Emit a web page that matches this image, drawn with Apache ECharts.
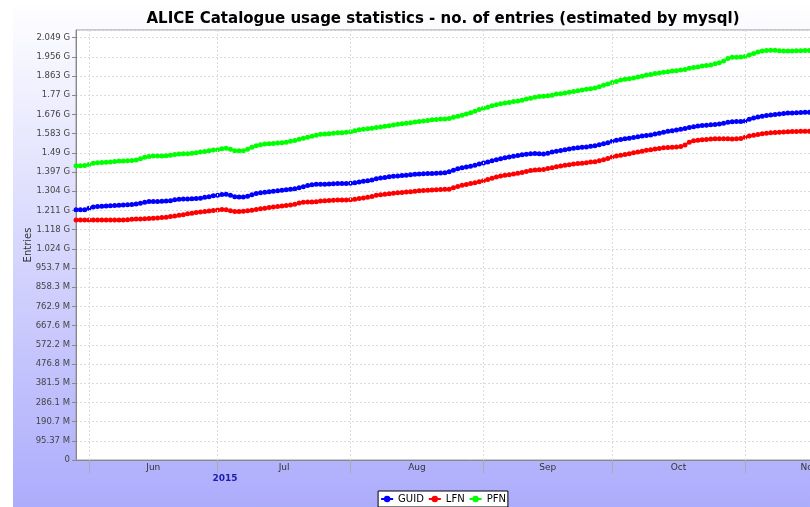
<!DOCTYPE html>
<html><head><meta charset="utf-8">
<script src="https://cdn.jsdelivr.net/npm/echarts@6/dist/echarts.min.js"></script>
<style>
html,body{margin:0;padding:0;width:810px;height:507px;overflow:hidden;background:#fff;}
#chart{position:absolute;left:13px;top:0;width:860px;height:507px;background:linear-gradient(to bottom,#ffffff 0%,#acacfc 100%);}
</style></head><body><div id="chart"></div>
<script>
const chartTitle = 'ALICE Catalogue usage statistics - no. of entries (estimated by mysql)';
const seriesNames = ['GUID', 'LFN', 'PFN'];
const seriesColors = ['#0000ff', '#ff0000', '#00ff00'];
const yAxisName = 'Entries';
const startDate = [2015, 4, 29];           // first daily sample (May 29, 2015)
const axisStart = [2015, 4, 28, 23, 30];   // visible x range
const axisEnd = [2015, 10, 28, 23, 30];
const monthStarts = [[2015,5,1],[2015,6,1],[2015,7,1],[2015,8,1],[2015,9,1],[2015,10,1],[2015,11,1]];
const monthNames = ['Jun', 'Jul', 'Aug', 'Sep', 'Oct', 'Nov'];
const yearLabel = '2015';
const yearLabelDate = [2015, 6, 2, 18];
const yMin = 0, yMax = 2.24e9, yStep = 1e8;

// values in millions of entries, one per day
const guid = [
1303,1303,1304,1311,1318,1320,1322,1323,1324,1326,
1327,1328,1330,1331,1333,1337,1343,1346,1347,1347,
1348,1349,1351,1356,1358,1359,1360,1361,1362,1364,
1369,1372,1376,1379,1383,1384,1379,1371,1370,1370,
1374,1382,1388,1392,1395,1397,1400,1403,1405,1408,
1410,1413,1418,1424,1430,1434,1436,1437,1437,1438,
1439,1440,1441,1441,1442,1444,1448,1452,1455,1459,
1465,1469,1472,1476,1478,1480,1482,1483,1486,1488,
1490,1491,1492,1493,1494,1495,1496,1502,1509,1517,
1522,1526,1530,1535,1542,1547,1553,1559,1564,1569,
1575,1579,1582,1586,1590,1593,1595,1597,1595,1594,
1598,1605,1608,1612,1616,1620,1624,1627,1629,1631,
1634,1637,1642,1648,1653,1661,1666,1669,1673,1676,
1680,1684,1688,1690,1693,1698,1702,1707,1712,1715,
1719,1723,1727,1732,1736,1740,1742,1744,1746,1748,
1750,1754,1759,1762,1763,1764,1766,1775,1782,1787,
1791,1794,1797,1800,1802,1805,1807,1808,1809,1810,
1811,1811];
const lfn = [
1250,1250,1250,1250,1250,1250,1250,1250,1250,1250,
1250,1250,1252,1254,1255,1256,1257,1258,1259,1261,
1263,1265,1268,1271,1275,1278,1283,1286,1289,1292,
1295,1297,1300,1302,1305,1303,1298,1295,1295,1296,
1298,1301,1305,1309,1312,1315,1318,1321,1323,1326,
1328,1332,1339,1343,1344,1344,1345,1349,1351,1352,
1353,1354,1355,1355,1356,1358,1362,1365,1369,1373,
1379,1382,1384,1387,1389,1392,1394,1396,1398,1400,
1402,1404,1405,1407,1408,1409,1410,1411,1418,1425,
1431,1435,1440,1444,1449,1455,1461,1468,1474,1479,
1483,1486,1490,1494,1498,1503,1508,1511,1512,1513,
1518,1523,1528,1531,1535,1538,1542,1544,1546,1549,
1552,1554,1559,1564,1571,1578,1584,1588,1592,1596,
1601,1605,1609,1613,1616,1620,1623,1626,1628,1629,
1631,1633,1641,1655,1663,1666,1668,1670,1672,1673,
1673,1674,1673,1672,1673,1675,1681,1688,1692,1696,
1700,1702,1705,1706,1708,1709,1710,1711,1711,1712,
1712,1712];
const pfn = [
1533,1533,1534,1539,1546,1549,1550,1551,1552,1555,
1557,1558,1559,1560,1563,1569,1577,1581,1583,1583,
1584,1585,1588,1592,1594,1595,1596,1598,1601,1604,
1607,1611,1615,1616,1621,1624,1619,1611,1611,1611,
1619,1629,1637,1642,1646,1648,1649,1651,1653,1655,
1661,1665,1671,1676,1681,1687,1692,1697,1698,1700,
1702,1705,1705,1708,1710,1715,1721,1723,1726,1728,
1732,1735,1739,1741,1745,1749,1752,1754,1757,1761,
1763,1766,1769,1772,1774,1776,1777,1779,1785,1791,
1796,1802,1809,1817,1826,1832,1838,1845,1851,1856,
1860,1862,1867,1870,1874,1880,1885,1890,1893,1895,
1898,1900,1906,1908,1912,1916,1920,1924,1928,1931,
1934,1938,1945,1952,1959,1966,1972,1979,1983,1986,
1990,1995,1999,2005,2008,2013,2016,2020,2023,2027,
2028,2032,2034,2041,2045,2047,2052,2055,2058,2064,
2070,2078,2091,2098,2098,2099,2102,2110,2118,2126,
2131,2133,2135,2135,2132,2130,2130,2131,2132,2132,
2133,2133];

const FONT = 'DejaVu Sans';
const utc = a => Date.UTC(a[0], a[1], a[2], a[3] || 0, a[4] || 0);
const DAY = 86400000;
const t0 = utc(startDate);
const toData = arr => arr.map((v, i) => [t0 + i * DAY, v * 1e6]);
const monthTs = monthStarts.map(utc);
const monthMid = monthNames.map((n, i) => (monthTs[i] + monthTs[i + 1]) / 2);

function yFmt(v) {
  if (v === 0) return '0';
  const G = Math.pow(2, 30), M = Math.pow(2, 20);
  if (v >= G) return parseFloat((v / G).toPrecision(4)) + ' G';
  return parseFloat((v / M).toPrecision(4)) + ' M';
}

const chart = echarts.init(document.getElementById('chart'), null, {renderer: 'canvas'});
const series = [{
  name: '_grid', type: 'line', data: [], z: 1, silent: true,
  markLine: {
    silent: true, symbol: ['none', 'none'], animation: false,
    label: {show: false},
    lineStyle: {color: '#dcdcdc', type: [2, 2], width: 1},
    data: monthTs.slice(0, 6).map(t => ({xAxis: t}))
  }
}];
[guid, lfn, pfn].forEach((arr, k) => {
  series.push({
    name: seriesNames[k], type: 'line', data: toData(arr), z: 3,
    symbol: 'circle', symbolSize: 5, showSymbol: true,
    itemStyle: {color: seriesColors[k]},
    lineStyle: {color: seriesColors[k], width: 1.5},
    emphasis: {disabled: true}, animation: false
  });
});

chart.setOption({
  animation: false,
  backgroundColor: 'transparent',
  title: {text: chartTitle, left: 'center', top: 7,
    textStyle: {fontSize: 15, fontWeight: 'bold', color: '#000', fontFamily: FONT}},
  legend: {data: seriesNames, top: 491, left: 'center', backgroundColor: '#fff',
    borderColor: '#000', borderWidth: 1, borderRadius: 0, padding: [3, 2],
    itemGap: 4, itemWidth: 12, itemHeight: 8,
    textStyle: {fontSize: 10, color: '#000', fontFamily: FONT}},
  grid: {left: 63, right: 8, top: 30, bottom: 47, show: true, containLabel: false,
    outerBoundsMode: 'none',
    backgroundColor: '#fff', borderColor: '#999', borderWidth: 1},
  xAxis: [{
    type: 'value', min: utc(axisStart), max: utc(axisEnd),
    axisLine: {show: true, onZero: false, lineStyle: {color: '#888'}},
    axisTick: {show: true, customValues: monthTs, length: 13, lineStyle: {color: '#aaa'}},
    axisLabel: {customValues: monthMid, margin: 3, fontSize: 9, color: '#333', fontFamily: FONT,
      formatter: v => { const i = monthMid.indexOf(v); return i >= 0 ? monthNames[i] : ''; }},
    splitLine: {show: false}
  }, {
    type: 'value', min: utc(axisStart), max: utc(axisEnd), position: 'bottom',
    axisLine: {show: false}, axisTick: {show: false}, splitLine: {show: false},
    axisLabel: {customValues: [utc(yearLabelDate)], margin: 14, fontSize: 9, fontWeight: 'bold',
      color: '#1c1cb0', fontFamily: FONT, formatter: () => yearLabel}
  }],
  yAxis: {
    type: 'value', min: yMin, max: yMax, interval: yStep,
    name: yAxisName, nameLocation: 'middle', nameGap: 43, nameMoveOverlap: false,
    nameTextStyle: {fontSize: 10, color: '#333', fontFamily: FONT},
    axisLine: {show: true, lineStyle: {color: '#888'}},
    axisTick: {show: true, length: 4, lineStyle: {color: '#888'}},
    axisLabel: {fontSize: 8.5, color: '#444', margin: 6, showMaxLabel: false, formatter: yFmt, fontFamily: FONT},
    splitLine: {show: true, lineStyle: {color: '#dcdcdc', type: [2, 2]}}
  },
  series: series
});
</script></body></html>
